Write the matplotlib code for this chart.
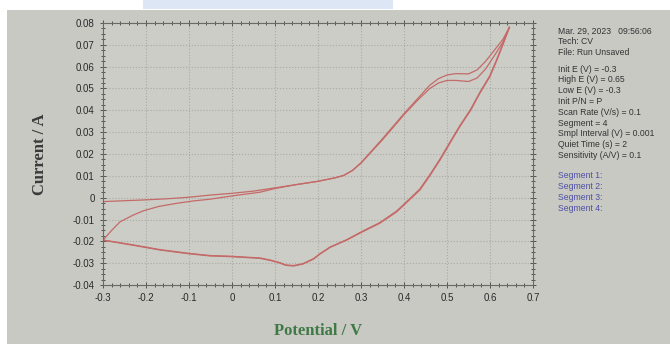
import matplotlib.pyplot as plt
from matplotlib.patches import Rectangle
from matplotlib.ticker import MultipleLocator

# Segment 1: forward sweep, cycle 1
v_seg1 = [-0.3, -0.25, -0.2, -0.15, -0.1, -0.05, 0.0, 0.05, 0.1, 0.15, 0.2, 0.24, 0.26,
          0.28, 0.3, 0.35, 0.4, 0.43, 0.46, 0.48, 0.5, 0.52, 0.55, 0.57, 0.59, 0.61,
          0.63, 0.645]
i_seg1 = [-0.0018, -0.0014, -0.001, -0.0005, 0.0002, 0.0012, 0.002, 0.003, 0.0045, 0.006,
          0.0075, 0.0091, 0.0102, 0.0125, 0.016, 0.027, 0.0385, 0.045, 0.0515, 0.0545,
          0.0562, 0.0568, 0.0567, 0.0585, 0.0625, 0.0675, 0.0725, 0.078]

# Segment 2: reverse sweep, cycle 1
v_seg2 = [0.645, 0.63, 0.616, 0.6, 0.577, 0.555, 0.53, 0.507, 0.484, 0.46, 0.437, 0.41,
          0.383, 0.344, 0.305, 0.267, 0.228, 0.205, 0.189, 0.165, 0.143, 0.125, 0.112,
          0.09, 0.065, 0.03, -0.005, -0.051, -0.1, -0.167, -0.23, -0.3]
i_seg2 = [0.078, 0.070, 0.063, 0.0555, 0.048, 0.040, 0.0326, 0.025, 0.0173, 0.010, 0.0035,
          -0.0015, -0.0065, -0.0117, -0.0155, -0.0194, -0.0228, -0.0258, -0.0282, -0.0304,
          -0.0313, -0.031, -0.030, -0.0288, -0.0278, -0.0274, -0.027, -0.0267, -0.0257,
          -0.024, -0.0218, -0.0195]

# Segment 3: forward sweep, cycle 2
v_seg3 = [-0.3, -0.28, -0.26, -0.23, -0.206, -0.17, -0.129, -0.09, -0.051, 0.0, 0.065,
          0.1, 0.15, 0.2, 0.24, 0.26, 0.28, 0.3, 0.35, 0.4, 0.43, 0.46, 0.48, 0.5, 0.52,
          0.55, 0.57, 0.59, 0.61, 0.63, 0.645]
i_seg3 = [-0.0195, -0.015, -0.011, -0.008, -0.006, -0.004, -0.0026, -0.0015, -0.0007,
          0.0008, 0.0025, 0.0042, 0.006, 0.0075, 0.0091, 0.0102, 0.0124, 0.0158, 0.0265,
          0.038, 0.0443, 0.0500, 0.0525, 0.0537, 0.0537, 0.0532, 0.0548, 0.059, 0.065,
          0.0712, 0.078]

# Segment 4: reverse sweep, cycle 2
v_seg4 = [0.645, 0.63, 0.616, 0.6, 0.577, 0.555, 0.53, 0.507, 0.484, 0.46, 0.437, 0.41,
          0.383, 0.344, 0.305, 0.267, 0.228, 0.205, 0.189, 0.165, 0.143, 0.125, 0.112,
          0.09, 0.065, 0.03, -0.005, -0.051, -0.1, -0.167, -0.23, -0.3]
i_seg4 = [0.078, 0.0705, 0.0635, 0.056, 0.0485, 0.0405, 0.033, 0.0255, 0.0178, 0.0105,
          0.004, -0.0011, -0.0061, -0.0114, -0.0152, -0.0192, -0.0226, -0.0256, -0.028,
          -0.0302, -0.0311, -0.0308, -0.0298, -0.0286, -0.0276, -0.0272, -0.0268, -0.0265,
          -0.0255, -0.0238, -0.0216, -0.0194]

info_lines = ["Mar. 29, 2023   09:56:06", "Tech: CV", "File: Run Unsaved"]
param_lines = ["Init E (V) = -0.3", "High E (V) = 0.65", "Low E (V) = -0.3",
               "Init P/N = P", "Scan Rate (V/s) = 0.1", "Segment = 4",
               "Smpl Interval (V) = 0.001", "Quiet Time (s) = 2", "Sensitivity (A/V) = 0.1"]
segment_lines = ["Segment 1:", "Segment 2:", "Segment 3:", "Segment 4:"]

narrow = ['Liberation Sans Narrow', 'Liberation Sans', 'DejaVu Sans']
serif = ['Liberation Serif', 'DejaVu Serif']

fig = plt.figure(figsize=(6.7, 3.44), dpi=100, facecolor='white')

# photo background of the screen
fig.patches.append(Rectangle((7/670, 0), 1, 1 - 10/344, transform=fig.transFigure,
                             facecolor='#c8c9c3', edgecolor='none', zorder=-10))
fig.patches.append(Rectangle((143/670, 1 - 9/344), 250/670, 9/344, transform=fig.transFigure,
                             facecolor='#dde6f5', edgecolor='none', zorder=-10))

ax = fig.add_axes([103/670, 1 - 285/344, 430/670, 262/344])
ax.set_facecolor('#cccdc7')

line_color = '#c46a68'
for v, i in [(v_seg1, i_seg1), (v_seg2, i_seg2), (v_seg3, i_seg3), (v_seg4, i_seg4)]:
    ax.plot(v, i, color=line_color, lw=0.9)

ax.set_xlim(-0.3, 0.7)
ax.set_ylim(-0.04, 0.08)
ax.xaxis.set_major_locator(MultipleLocator(0.1))
ax.xaxis.set_minor_locator(MultipleLocator(0.02))
ax.yaxis.set_major_locator(MultipleLocator(0.01))
ax.yaxis.set_minor_locator(MultipleLocator(0.0025))
ax.xaxis.set_major_formatter(lambda x, pos: "0" if abs(x) < 1e-9 else f"{x:.1f}")
ax.yaxis.set_major_formatter(lambda y, pos: "0" if abs(y) < 1e-9 else f"{y:.2f}")

ax.tick_params(which='both', direction='inout', top=True, right=True,
               colors='#55554f', labelcolor='#2a2a2a', width=0.7)
ax.tick_params(which='major', length=5, labelsize=7)
ax.tick_params(which='minor', length=2.5)
for lab in ax.get_xticklabels() + ax.get_yticklabels():
    lab.set_family(narrow)
for s in ax.spines.values():
    s.set_color('#6a6a64')
    s.set_linewidth(0.8)

ax.grid(True, which='major', color='#a9aaa4', linestyle=':', linewidth=0.8)

ax.set_xlabel('Potential / V', family=serif, fontweight='bold', fontsize=12,
              color='#3f7a45', labelpad=14)
ax.set_ylabel('Current / A', family=serif, fontweight='bold', fontsize=12,
              color='#3a3a3a', labelpad=18)

# instrument parameter panel
tx = 558/670
y = 1 - 31/344
step = 10.8/344
for t in info_lines:
    fig.text(tx, y, t, family=narrow, fontsize=6.2, color='#333333', va='center')
    y -= step
y = 1 - 69/344
for t in param_lines:
    fig.text(tx, y, t, family=narrow, fontsize=6.2, color='#333333', va='center')
    y -= step
y = 1 - 176/344
for t in segment_lines:
    fig.text(tx, y, t, family=narrow, fontsize=6.2, color='#4e4fa6', va='center')
    y -= step

fig.savefig('out.png', dpi=100, facecolor=fig.get_facecolor())
